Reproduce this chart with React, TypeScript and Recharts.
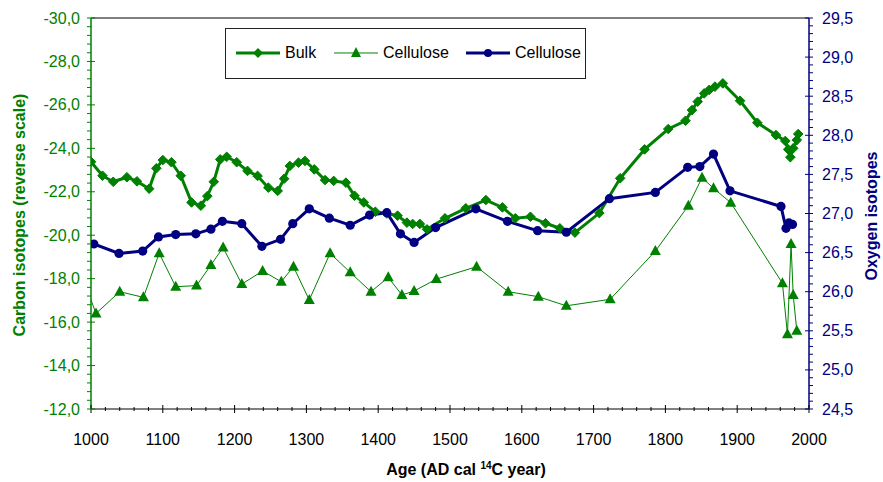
import { CartesianGrid, Line, LineChart, ReferenceLine, XAxis, YAxis } from "recharts";

const GREEN = "#008000";
const NAVY = "#000080";
const FONT = "'Liberation Sans', Arial, sans-serif";

// plot box (page coords), set by chart margin + axis sizes below
const PLOT_LEFT = 91;
const PLOT_RIGHT = 809;
const PLOT_BOTTOM = 409;

// Bulk, carbon (left axis, reversed)
const bulkAge = [
  1000, 1016, 1031, 1050, 1064, 1081, 1091, 1100, 1112, 1125,
  1140, 1153, 1162, 1171, 1180, 1189, 1203, 1218, 1232, 1247,
  1260, 1269, 1277, 1289, 1298, 1311, 1326, 1338, 1355, 1367,
  1380, 1396, 1412, 1427, 1440, 1448, 1458, 1468, 1493, 1522,
  1550, 1573, 1591, 1612, 1633, 1653, 1674, 1708, 1737, 1771,
  1804, 1828, 1837, 1845, 1854, 1861, 1869, 1880, 1904, 1928,
  1954, 1967, 1971, 1974, 1978, 1983, 1985,
];
const bulkCarbon = [
  -23.38, -22.74, -22.46, -22.67, -22.48, -22.14, -23.08, -23.46, -23.36, -22.74,
  -21.51, -21.36, -21.8, -22.46, -23.49, -23.61, -23.36, -22.96, -22.73, -22.19,
  -22.04, -22.6, -23.19, -23.34, -23.42, -23.03, -22.54, -22.5, -22.42, -21.82,
  -21.51, -21.08, -21.0, -20.9, -20.58, -20.52, -20.52, -20.27, -20.78, -21.24,
  -21.62, -21.28, -20.78, -20.85, -20.55, -20.32, -20.12, -21.02, -22.62, -23.95,
  -24.89, -25.27, -25.76, -26.15, -26.53, -26.69, -26.84, -26.99, -26.19, -25.18,
  -24.61, -24.34, -23.95, -23.59, -24.0, -24.38, -24.66,
];

// Cellulose, carbon (left axis)
const celluloseCAge = [
  990, 1007, 1040, 1073, 1095, 1118, 1147, 1167, 1184, 1210,
  1239, 1265, 1282, 1304, 1333, 1361, 1390, 1414, 1433, 1450,
  1481, 1537, 1581, 1623, 1662, 1723, 1786, 1832, 1851, 1867,
  1891, 1963, 1970, 1975, 1978, 1983,
];
const celluloseCarbon = [
  -17.9, -16.4, -17.4, -17.14, -19.17, -17.63, -17.68, -18.63, -19.43, -17.75,
  -18.35, -17.86, -18.55, -17.02, -19.17, -18.29, -17.4, -18.06, -17.25, -17.43,
  -17.98, -18.55, -17.4, -17.17, -16.75, -17.05, -19.27, -21.36, -22.65, -22.16,
  -21.5, -17.79, -15.44, -19.6, -17.25, -15.6,
];

// Cellulose, oxygen (right axis)
const celluloseOAge = [
  990, 1004, 1039, 1072, 1094, 1118, 1146, 1167, 1183, 1210,
  1238, 1264, 1281, 1304, 1332, 1361, 1388, 1412, 1431, 1450,
  1480, 1536, 1580, 1622, 1662, 1722, 1786, 1831, 1848, 1867,
  1890, 1961, 1968, 1972, 1977,
];
const celluloseOxygen = [
  26.65, 26.61, 26.49, 26.52, 26.7, 26.73, 26.74, 26.8, 26.9, 26.87,
  26.58, 26.67, 26.87, 27.06, 26.94, 26.85, 26.98, 27.01, 26.74, 26.63,
  26.82, 27.06, 26.9, 26.78, 26.76, 27.19, 27.27, 27.59, 27.6, 27.76,
  27.29, 27.09, 26.81, 26.88, 26.86,
];

const ageTicks = [1000, 1100, 1200, 1300, 1400, 1500, 1600, 1700, 1800, 1900, 2000];
const carbonTicks = [-30, -28, -26, -24, -22, -20, -18, -16, -14, -12];
const oxygenTicks = [24.5, 25, 25.5, 26, 26.5, 27, 27.5, 28, 28.5, 29, 29.5];

const bulkData = bulkAge.map((age, i) => ({ age, carbon: bulkCarbon[i] }));
const celluloseCData = celluloseCAge.map((age, i) => ({ age, carbon: celluloseCarbon[i] }));
const celluloseOData = celluloseOAge.map((age, i) => ({ age, oxygen: celluloseOxygen[i] }));

// major ticks split into 5 for the minor tick marks
function withMinor(major: number[]) {
  const out: number[] = [];
  for (let i = 0; i < major.length - 1; i++) {
    const step = (major[i + 1] - major[i]) / 5;
    for (let k = 0; k < 5; k++) out.push(+(major[i] + step * k).toFixed(4));
  }
  out.push(major[major.length - 1]);
  return out;
}

const isMajor = (v: number, major: number[]) => major.some((m) => Math.abs(m - v) < 1e-6);
const comma = (v: number) => v.toFixed(1).replace(".", ",");

const AgeTick = (props: any) => {
  const { x, payload } = props;
  const major = isMajor(payload.value, ageTicks);
  return (
    <g>
      <line x1={x} x2={x} y1={major ? PLOT_BOTTOM - 4 : PLOT_BOTTOM - 2} y2={major ? PLOT_BOTTOM + 4 : PLOT_BOTTOM + 2} stroke="#000" />
      {major && (
        <text x={x} y={445} textAnchor="middle" fontSize={16} fontFamily={FONT} fill="#000">
          {payload.value}
        </text>
      )}
    </g>
  );
};

const CarbonTick = (props: any) => {
  const { y, payload } = props;
  const major = isMajor(payload.value, carbonTicks);
  return (
    <g>
      <line x1={PLOT_LEFT - 4} x2={major ? PLOT_LEFT + 4 : PLOT_LEFT} y1={y} y2={y} stroke={GREEN} />
      {major && (
        <text x={80} y={y} dy={5.5} textAnchor="end" fontSize={16} fontFamily={FONT} fill={GREEN}>
          {comma(payload.value)}
        </text>
      )}
    </g>
  );
};

const OxygenTick = (props: any) => {
  const { y, payload } = props;
  const major = isMajor(payload.value, oxygenTicks);
  return (
    <g>
      <line x1={major ? PLOT_RIGHT - 4 : PLOT_RIGHT} x2={PLOT_RIGHT + 4} y1={y} y2={y} stroke={NAVY} />
      {major && (
        <text x={822} y={y} dy={5.5} textAnchor="start" fontSize={16} fontFamily={FONT} fill={NAVY}>
          {comma(payload.value)}
        </text>
      )}
    </g>
  );
};

const Diamond = (props: any) => {
  const { cx, cy, index, payload } = props;
  if (payload.age < 1000) return <g key={`bd${index}`} />;
  const s = 4.8;
  return <path key={`bd${index}`} d={`M${cx},${cy - s}L${cx + s},${cy}L${cx},${cy + s}L${cx - s},${cy}Z`} fill={GREEN} stroke={GREEN} strokeWidth={1} />;
};

const Triangle = (props: any) => {
  const { cx, cy, index, payload } = props;
  if (payload.age < 1000) return <g key={`td${index}`} />;
  const s = 5;
  return <path key={`td${index}`} d={`M${cx},${cy - s - 1}L${cx + s + 0.5},${cy + s - 1}L${cx - s - 0.5},${cy + s - 1}Z`} fill={GREEN} />;
};

const Circle = (props: any) => {
  const { cx, cy, index, payload } = props;
  if (payload.age < 1000) return <g key={`cd${index}`} />;
  return <circle key={`cd${index}`} cx={cx} cy={cy} r={4.6} fill={NAVY} />;
};

function LegendIcon({ kind }: { kind: "bulk" | "cellC" | "cellO" }) {
  const color = kind === "cellO" ? NAVY : GREEN;
  const sw = kind === "cellC" ? 1 : 3;
  return (
    <svg width={44} height={12} style={{ display: "block" }}>
      <line x1={0} x2={44} y1={6} y2={6} stroke={color} strokeWidth={sw} />
      {kind === "bulk" && <path d="M22,1L27,6L22,11L17,6Z" fill={GREEN} />}
      {kind === "cellC" && <path d="M22,0L27,10L17,10Z" fill={GREEN} />}
      {kind === "cellO" && <circle cx={22} cy={6} r={4} fill={NAVY} />}
    </svg>
  );
}

function ChartLegend() {
  const items: { kind: "bulk" | "cellC" | "cellO"; label: string; left: number }[] = [
    { kind: "bulk", label: "Bulk", left: 10 },
    { kind: "cellC", label: "Cellulose", left: 108 },
    { kind: "cellO", label: "Cellulose", left: 240 },
  ];
  return (
    <div
      style={{
        position: "absolute",
        left: 225,
        top: 28,
        width: 359,
        height: 49,
        border: "1px solid #222",
        background: "#fff",
        fontFamily: FONT,
        fontSize: 16,
      }}
    >
      {items.map((it) => (
        <div key={it.kind} style={{ position: "absolute", left: it.left, top: 15, display: "flex", alignItems: "center", gap: 5 }}>
          <LegendIcon kind={it.kind} />
          <span>{it.label}</span>
        </div>
      ))}
    </div>
  );
}

export default function App() {
  return (
    <div style={{ position: "absolute", left: 0, top: 0, width: 883, height: 482, background: "#fff" }}>
      <LineChart width={883} height={482} margin={{ top: 18, right: 0, bottom: 0, left: 0 }}>
        <CartesianGrid stroke="none" />
        <XAxis
          dataKey="age"
          type="number"
          domain={[1000, 2000]}
          ticks={withMinor(ageTicks)}
          interval={0}
          allowDataOverflow
          height={73}
          stroke="#000"
          tickLine={false}
          tick={<AgeTick />}
        />
        <YAxis
          yAxisId="c"
          type="number"
          domain={[-30, -12]}
          reversed
          ticks={withMinor(carbonTicks)}
          interval={0}
          width={91}
          stroke={GREEN}
          strokeWidth={1.5}
          tickLine={false}
          tick={<CarbonTick />}
          label={{
            content: () => (
              <text x={25} y={215} transform="rotate(-90 25 215)" textAnchor="middle" fontSize={16} fontWeight="bold" fontFamily={FONT} fill={GREEN}>
                Carbon isotopes (reverse scale)
              </text>
            ),
          }}
        />
        <YAxis
          yAxisId="o"
          orientation="right"
          type="number"
          domain={[24.5, 29.5]}
          ticks={withMinor(oxygenTicks)}
          interval={0}
          width={74}
          stroke={NAVY}
          strokeWidth={1.5}
          tickLine={false}
          tick={<OxygenTick />}
          label={{
            content: () => (
              <text x={877} y={216} transform="rotate(-90 877 216)" textAnchor="middle" fontSize={16} fontWeight="bold" fontFamily={FONT} fill={NAVY}>
                Oxygen isotopes
              </text>
            ),
          }}
        />
        <ReferenceLine yAxisId="c" y={-30} stroke="#000" strokeWidth={1} />
        <Line
          yAxisId="c"
          data={celluloseCData}
          dataKey="carbon"
          stroke={GREEN}
          strokeWidth={1}
          dot={<Triangle />}
          isAnimationActive={false}
        />
        <Line
          yAxisId="c"
          data={bulkData}
          dataKey="carbon"
          stroke={GREEN}
          strokeWidth={3}
          dot={<Diamond />}
          isAnimationActive={false}
        />
        <Line
          yAxisId="o"
          data={celluloseOData}
          dataKey="oxygen"
          stroke={NAVY}
          strokeWidth={3}
          dot={<Circle />}
          isAnimationActive={false}
        />
      </LineChart>
      <div
        style={{
          position: "absolute",
          left: 466,
          top: 460,
          transform: "translateX(-50%)",
          whiteSpace: "nowrap",
          fontFamily: FONT,
          fontSize: 16,
          fontWeight: "bold",
        }}
      >
        Age (AD cal <sup style={{ fontSize: 10 }}>14</sup>C year)
      </div>
      <ChartLegend />
    </div>
  );
}
